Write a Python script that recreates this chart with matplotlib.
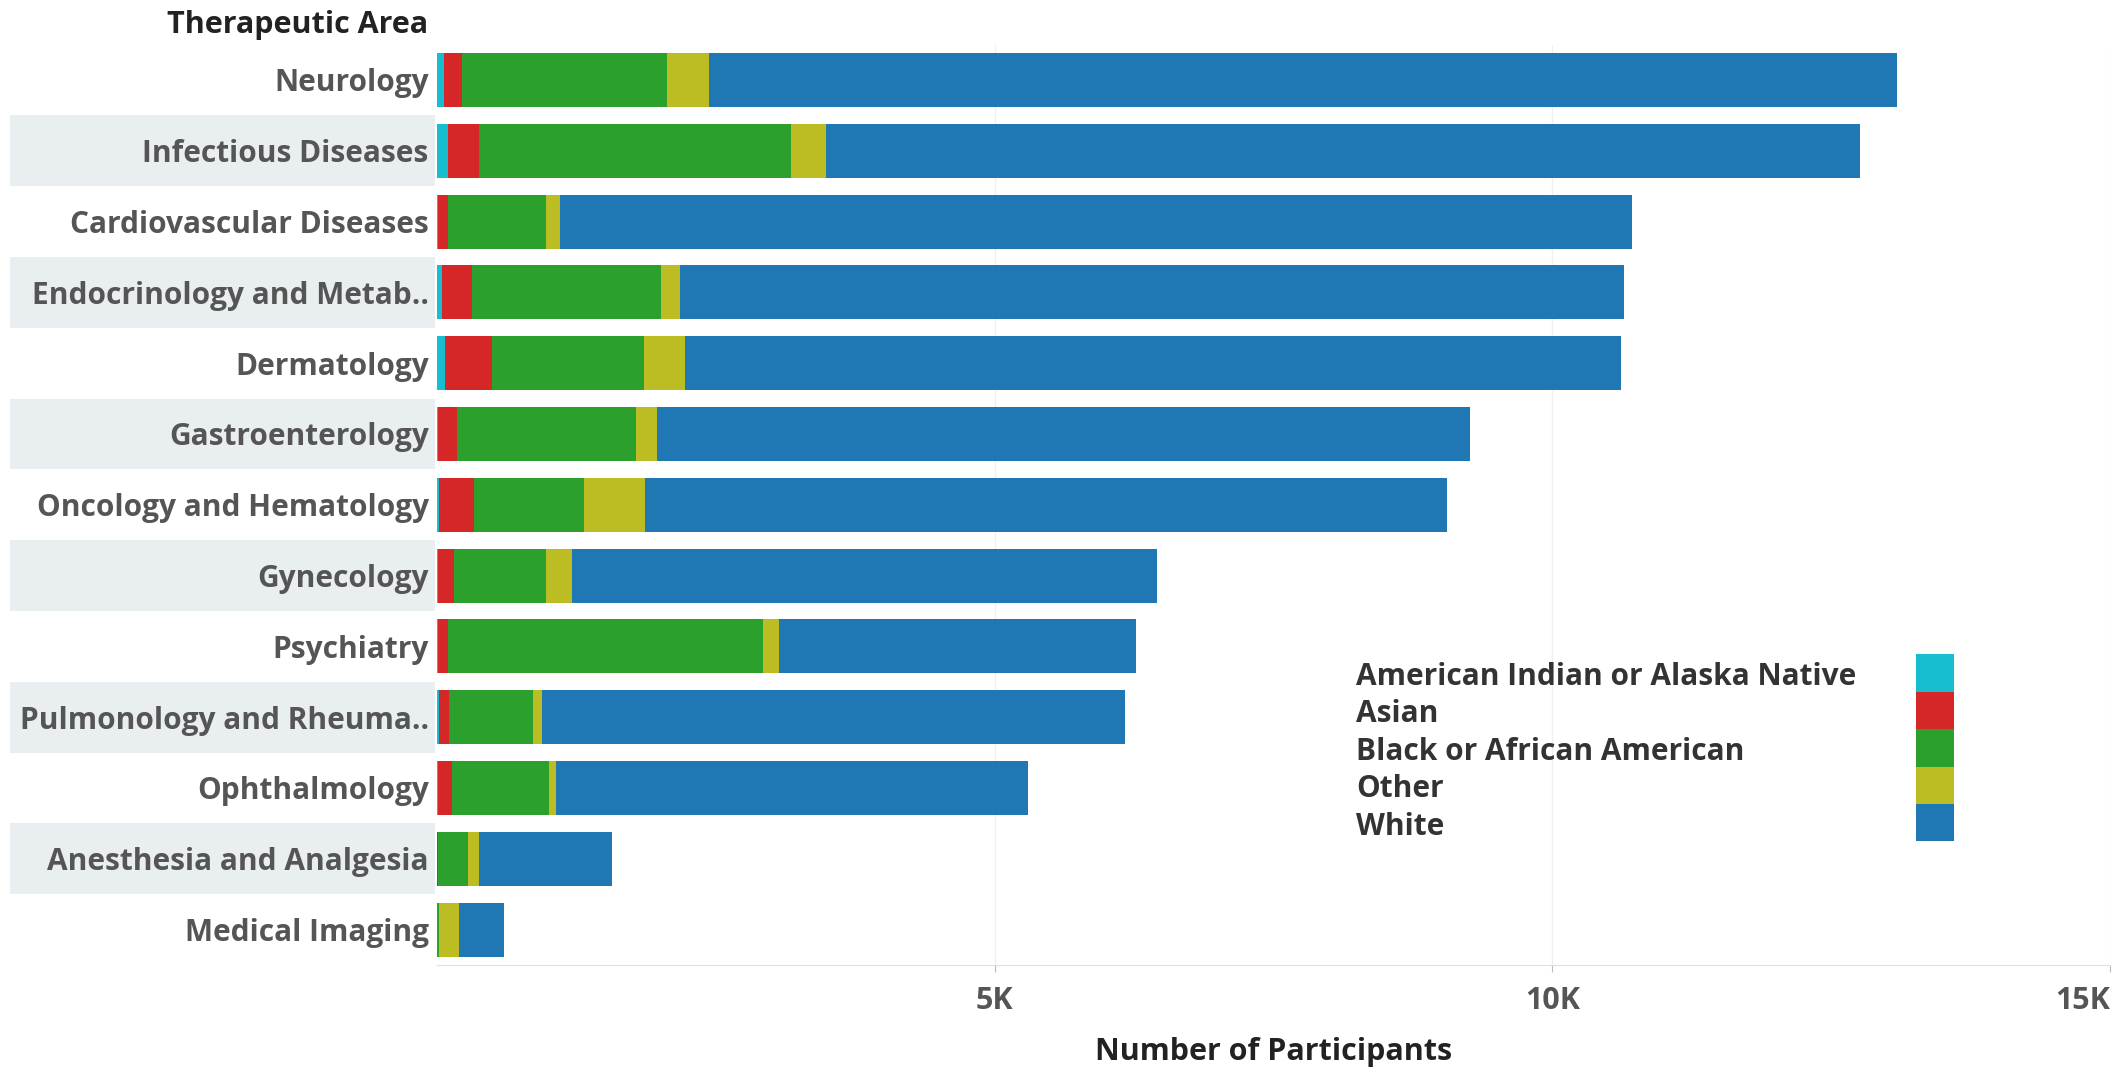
import matplotlib.pyplot as plt
from matplotlib.patches import Rectangle
from matplotlib.transforms import blended_transform_factory
from matplotlib.ticker import FuncFormatter

# Participants by therapeutic area and race
areas = ["Neurology", "Infectious Diseases", "Cardiovascular Diseases",
         "Endocrinology and Metab..", "Dermatology", "Gastroenterology",
         "Oncology and Hematology", "Gynecology", "Psychiatry",
         "Pulmonology and Rheuma..", "Ophthalmology", "Anesthesia and Analgesia",
         "Medical Imaging"]
amer_ind = [60, 99, 9, 48, 69, 9, 15, 9, 5, 15, 5, 0, 0]
asian = [167, 275, 90, 263, 425, 170, 314, 141, 90, 90, 129, 9, 0]
black = [1839, 2796, 882, 1701, 1360, 1603, 987, 828, 2832, 753, 873, 272, 18]
other = [374, 314, 120, 164, 368, 191, 553, 230, 135, 84, 60, 99, 182]
white = [10654, 9277, 9616, 8467, 8392, 7285, 7191, 5243, 3206, 5223, 4233, 1190, 404]

races = ["American Indian or Alaska Native", "Asian", "Black or African American",
         "Other", "White"]
colors = ["#17becf", "#d62728", "#2ca02c", "#bcbd22", "#1f77b4"]
xticks = [5000, 10000, 15000]

plt.rcParams['font.family'] = ['Open Sans', 'DejaVu Sans']
plt.rcParams['font.weight'] = 'bold'
FS = 21.5

W, H = 2128, 1067
fig = plt.figure(figsize=(W / 100, H / 100), dpi=100)
ax = fig.add_axes([437 / W, 102 / H, (2110 - 437) / W, (965 - 44.6) / H])

ypos = list(range(len(areas)))
left = [0] * len(areas)
for vals, col in zip([amer_ind, asian, black, other, white], colors):
    ax.barh(ypos, vals, left=left, height=0.76, color=col, edgecolor='none', zorder=3)
    left = [l + v for l, v in zip(left, vals)]

ax.set_ylim(len(areas) - 0.5, -0.5)
ax.set_xlim(0, 15000)

# alternating row bands behind the labels
trans = blended_transform_factory(fig.transFigure, ax.transData)
for i in range(1, len(areas), 2):
    ax.add_patch(Rectangle((10 / W, i - 0.5), (435 - 10) / W, 1.0, transform=trans,
                           facecolor='#e9eef0', edgecolor='none', clip_on=False, zorder=0))

ax.set_yticks(ypos)
ax.set_yticklabels(areas, fontsize=FS, color='#555555', fontweight='bold')
ax.tick_params(axis='y', length=0, pad=6)

ax.set_xticks(xticks)
ax.xaxis.set_major_formatter(FuncFormatter(lambda v, p: f"{int(v / 1000)}K"))
ax.tick_params(axis='x', length=5, color='#bbbbbb', pad=10, labelsize=22, labelcolor='#555555')
for lab in ax.get_xticklabels():
    lab.set_fontweight('bold')
ax.get_xticklabels()[-1].set_horizontalalignment('right')
ax.grid(axis='x', color='#f0f0f0', linewidth=1, zorder=0)

for s in ['top', 'right', 'left']:
    ax.spines[s].set_visible(False)
ax.spines['bottom'].set_color('#e0e0e0')

fig.text(428 / W, 1 - 25 / H, "Therapeutic Area", ha='right', va='center',
         fontsize=22, fontweight='bold', color='#222222')
fig.text((437 + 2110) / 2 / W, 1 - 1052 / H, "Number of Participants", ha='center',
         va='center', fontsize=22, fontweight='bold', color='#222222')

# legend
for k, (name, col) in enumerate(zip(races, colors)):
    yc = 673 + 37.4 * k
    fig.text(1356 / W, 1 - (yc + 4) / H, name, ha='left', va='center', fontsize=21.5,
             fontweight='bold', color='#333333')
    fig.patches.append(Rectangle((1916 / W, 1 - (yc + 18.7) / H), 38 / W, 37.4 / H,
                                 transform=fig.transFigure, facecolor=col,
                                 edgecolor='none', figure=fig))

fig.savefig("out.png", dpi=100, facecolor='white')
